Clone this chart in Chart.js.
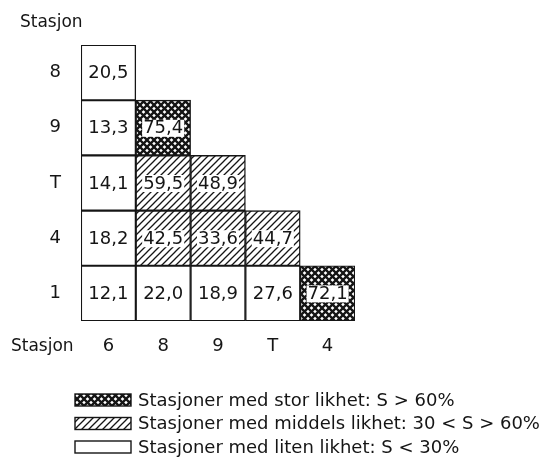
<!DOCTYPE html>
<html>
<head>
<meta charset="utf-8">
<script src="https://cdn.jsdelivr.net/npm/chart.js@4.4.0/dist/chart.umd.min.js"></script>
<style>
  html, body { margin: 0; padding: 0; background: #fff; }
  #wrap { width: 543px; height: 465px; }
</style>
</head>
<body>
<div id="wrap"><canvas id="chart" width="543" height="465"></canvas></div>
<script>
// stations along each axis
const colStations = ['6', '8', '9', 'T', '4'];
const rowStations = ['1', '4', 'T', '9', '8']; // bottom to top

// similarity S (%) for each row, one entry per column (null = empty)
const row1 = [12.1, 22.0, 18.9, 27.6, 72.1];
const row4 = [18.2, 42.5, 33.6, 44.7, null];
const rowT = [14.1, 59.5, 48.9, null, null];
const row9 = [13.3, 75.4, null, null, null];
const row8 = [20.5, null, null, null, null];
const rows = [row1, row4, rowT, row9, row8];

const legendLabels = [
    'Stasjoner med stor likhet: S > 60%',
    'Stasjoner med middels likhet: 30 < S > 60%',
    'Stasjoner med liten likhet: S < 30%'
];

const INK = '#151515';
const FONT = 'DejaVu Sans';

function makePattern(kind) {
    const size = 7;
    const c = document.createElement('canvas');
    c.width = size; c.height = size;
    const g = c.getContext('2d');
    g.fillStyle = '#fff';
    g.fillRect(0, 0, size, size);
    g.strokeStyle = INK;
    g.lineWidth = kind === 'cross' ? 2.3 : 1.3;
    g.beginPath();
    g.moveTo(-1, size + 1); g.lineTo(size + 1, -1);
    g.moveTo(-1, 1); g.lineTo(1, -1);
    g.moveTo(size - 1, size + 1); g.lineTo(size + 1, size - 1);
    g.stroke();
    if (kind === 'cross') {
        g.beginPath();
        g.moveTo(-1, -1); g.lineTo(size + 1, size + 1);
        g.moveTo(size - 1, -1); g.lineTo(size + 1, 1);
        g.moveTo(-1, size - 1); g.lineTo(1, size + 1);
        g.stroke();
    }
    return g.createPattern(c, 'repeat');
}

const ctx = document.getElementById('chart').getContext('2d');
const crossFill = makePattern('cross');
const hatchFill = makePattern('hatch');

function fillFor(v) {
    if (v > 60) return crossFill;
    if (v >= 30) return hatchFill;
    return '#fff';
}

const fmt = v => v.toFixed(1).replace('.', ',');

// value text in each cell, with a white patch where the cell is shaded
const cellLabels = {
    id: 'cellLabels',
    afterDatasetsDraw(chart) {
        const c = chart.ctx;
        c.save();
        c.font = '18px ' + FONT;
        c.textAlign = 'center';
        c.textBaseline = 'middle';
        chart.data.datasets.forEach((ds, di) => {
            const meta = chart.getDatasetMeta(di);
            ds.values.forEach((v, i) => {
                if (v === null) return;
                const bar = meta.data[i];
                const x = bar.x;
                const y = (bar.y + bar.base) / 2;
                const txt = fmt(v);
                if (v >= 30) {
                    const w = c.measureText(txt).width;
                    c.fillStyle = '#fff';
                    c.fillRect(x - w / 2 - 1, y - 8, w + 2, 17);
                }
                c.fillStyle = INK;
                c.fillText(txt, x, y + 1);
            });
        });
        c.restore();
    }
};

// axis titles and pattern legend
const extras = {
    id: 'extras',
    afterDraw(chart) {
        const c = chart.ctx;
        const area = chart.chartArea;
        c.save();
        c.fillStyle = INK;
        c.font = '17px ' + FONT;
        c.textAlign = 'left';
        c.textBaseline = 'alphabetic';
        c.fillText('Stasjon', 20, 27);
        c.textBaseline = 'middle';
        c.fillText('Stasjon', 11, area.bottom + 26);

        c.font = '18px ' + FONT;
        const fills = [crossFill, hatchFill, '#fff'];
        legendLabels.forEach((txt, i) => {
            const cy = 400 + i * 23.5;
            c.fillStyle = fills[i];
            c.fillRect(75, cy - 6, 56, 12);
            c.strokeStyle = INK;
            c.lineWidth = 1.4;
            c.strokeRect(75, cy - 6, 56, 12);
            c.fillStyle = INK;
            c.fillText(txt, 138, cy + 1);
        });
        c.restore();
    }
};

new Chart(ctx, {
    type: 'bar',
    data: {
        labels: colStations,
        datasets: rows.map((vals, r) => ({
            label: 'Stasjon ' + rowStations[r],
            values: vals,
            data: vals.map(v => (v === null ? null : [r, r + 1])),
            backgroundColor: c => fillFor(vals[c.dataIndex]),
            borderColor: INK,
            borderWidth: 1.4,
            borderSkipped: false,
            barPercentage: 1,
            categoryPercentage: 1
        }))
    },
    options: {
        responsive: false,
        animation: false,
        devicePixelRatio: 1,
        layout: { padding: { top: 45, right: 188, bottom: 104, left: 0 } },
        plugins: { legend: { display: false }, tooltip: { enabled: false } },
        scales: {
            x: {
                stacked: true,
                grid: { display: false, drawTicks: false },
                border: { display: false },
                ticks: { color: INK, font: { family: FONT, size: 18 }, padding: 15 },
                afterFit: s => { s.height = 40; }
            },
            y: {
                min: 0,
                max: 5,
                grid: { display: false, drawTicks: false },
                border: { display: false },
                afterBuildTicks: s => { s.ticks = rowStations.map((l, i) => ({ value: i + 0.5 })); },
                ticks: {
                    color: INK,
                    font: { family: FONT, size: 18 },
                    padding: 20,
                    callback: (v, i) => rowStations[i]
                },
                afterFit: s => { s.width = 81; }
            }
        }
    },
    plugins: [cellLabels, extras]
});
</script>
</body>
</html>
